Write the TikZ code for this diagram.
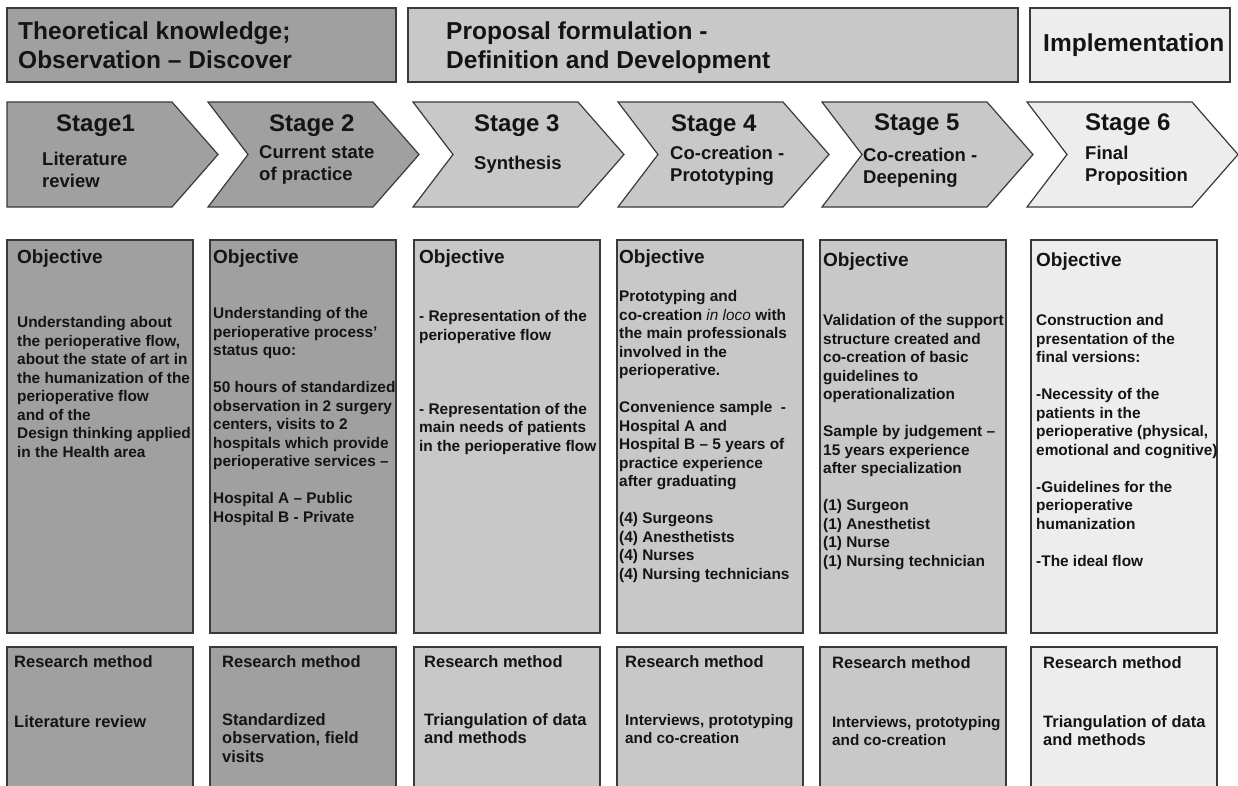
\documentclass[tikz,border=0pt]{standalone}
\usepackage{fontspec}
\setmainfont{Liberation Sans}
\usepackage{xcolor}
\usepackage{tikz}
\usetikzlibrary{calc}

\definecolor{discovergray}{HTML}{A0A0A0}
\definecolor{proposalgray}{HTML}{C8C8C8}
\definecolor{implementgray}{HTML}{EDEDED}
\definecolor{edgegray}{HTML}{3A3A3A}
\definecolor{textgray}{HTML}{141414}

\begin{document}
\begin{tikzpicture}[x=1pt,y=-1pt,
	panel/.style={draw=edgegray,line width=1.2pt},
	% multi-line texts hang from their first baseline
	bannertext/.style={anchor=north west,yshift=17.5pt,inner sep=0pt,align=left,text=textgray,font=\fontsize{24.5}{29}\selectfont\bfseries},
	stagetext/.style={anchor=base west,inner sep=0pt,text=textgray,font=\fontsize{24}{28}\selectfont\bfseries},
	subtext/.style={anchor=north west,yshift=13.3pt,inner sep=0pt,align=left,text=textgray,font=\fontsize{18.5}{22}\selectfont\bfseries},
	headtext/.style={anchor=base west,inner sep=0pt,text=textgray,font=\fontsize{19}{22}\selectfont\bfseries},
	bodytext/.style={anchor=north west,yshift=11pt,inner sep=0pt,align=left,text=textgray,font=\fontsize{15.4}{18.5}\selectfont\bfseries},
	methodtext/.style={anchor=north west,yshift=11.8pt,inner sep=0pt,align=left,text=textgray,font=\fontsize{16.5}{18.4}\selectfont\bfseries},
	narrowmethod/.style={methodtext,yshift=-0.8pt,font=\fontsize{15.3}{18.4}\selectfont\bfseries}]
	\useasboundingbox (0,0) rectangle (1238,785);
	% phase banners on top
	\draw[panel,fill=discovergray] (7,8) rectangle (396,82);% discover
	\draw[panel,fill=proposalgray] (408,8) rectangle (1018,82);% definition and development
	\draw[panel,fill=implementgray] (1030,8) rectangle (1230,82);% implementation
	\node[bannertext] (discover) at (18,39.5) {Theoretical knowledge;\\Observation – Discover};
	\node[bannertext] (proposal) at (446,39.5) {Proposal formulation -\\Definition and Development};
	\node[bannertext] (implement) at (1043,50.8) {Implementation};
	% stage chevrons, the first one has a flat back
	\draw[panel,fill=discovergray] (7,102) -- (172,102) -- (218,154.5) -- (172,207) -- (7,207) -- cycle;
	\foreach \x/\c in {208/discovergray,413/proposalgray,618/proposalgray,822/proposalgray,1027/implementgray}
		\draw[panel,fill=\c] (\x,102) -- ++(165,0) -- ++(46,52.5) -- ++(-46,52.5) -- ++(-165,0) -- ++(40,-52.5) -- cycle;
	\node[stagetext] (stage1) at (56,131.5) {Stage1};
	\node[subtext] (stage1sub) at (42,165.6) {Literature\\review};
	\node[stagetext] (stage2) at (269,131.5) {Stage 2};
	\node[subtext] (stage2sub) at (259,158.6) {Current state\\of practice};
	\node[stagetext] (stage3) at (474,131.5) {Stage 3};
	\node[subtext] (stage3sub) at (474,169.6) {Synthesis};
	\node[stagetext] (stage4) at (671,131.5) {Stage 4};
	\node[subtext] (stage4sub) at (670,159.6) {Co-creation -\\Prototyping};
	\node[stagetext] (stage5) at (874,130.5) {Stage 5};
	\node[subtext] (stage5sub) at (863,161.6) {Co-creation -\\Deepening};
	\node[stagetext] (stage6) at (1085,130.5) {Stage 6};
	\node[subtext] (stage6sub) at (1085,159.6) {Final\\Proposition};
	% objective and research method columns
	\foreach \x/\c in {7/discovergray,210/discovergray,414/proposalgray,617/proposalgray,820/proposalgray,1031/implementgray}{
		\draw[panel,fill=\c] (\x,240) rectangle ++(186,393);% objective
		\draw[panel,fill=\c] (\x,647) rectangle ++(186,160);% research method, runs off the page
	}
	\node[headtext] (obj1) at (17,263) {Objective};
	\node[bodytext] (obj1text) at (17,327.5) {Understanding about\\the perioperative flow,\\about the state of art in\\the humanization of the\\perioperative flow\\and of the\\Design thinking applied\\in the Health area};
	\node[headtext] (obj2) at (213,263) {Objective};
	\node[bodytext] (obj2text) at (213,318.5) {Understanding of the\\perioperative process’\\status quo:\\[18.5pt]50 hours of standardized\\observation in 2 surgery\\centers, visits to 2\\hospitals which provide\\perioperative services –\\[18.5pt]Hospital A – Public\\Hospital B - Private};
	\node[headtext] (obj3) at (419,263) {Objective};
	\node[bodytext] (obj3text) at (419,321.5) {- Representation of the\\perioperative flow\\[55.5pt]- Representation of the\\main needs of patients\\in the perioperative flow};
	\node[headtext] (obj4) at (619,263) {Objective};
	\node[bodytext] (obj4text) at (619,301.5) {Prototyping and\\co-creation {\mdseries\itshape in loco} with\\the main professionals\\involved in the\\perioperative.\\[18.5pt]Convenience sample\ \ -\\Hospital A and\\Hospital B – 5 years of\\practice experience\\after graduating\\[18.5pt](4) Surgeons\\(4) Anesthetists\\(4) Nurses\\(4) Nursing technicians};
	\node[headtext] (obj5) at (823,266) {Objective};
	\node[bodytext] (obj5text) at (823,325.5) {Validation of the support\\structure created and\\co-creation of basic\\guidelines to\\operationalization\\[18.5pt]Sample by judgement –\\15 years experience\\after specialization\\[18.5pt](1) Surgeon\\(1) Anesthetist\\(1) Nurse\\(1) Nursing technician};
	\node[headtext] (obj6) at (1036,266) {Objective};
	\node[bodytext] (obj6text) at (1036,325.5) {Construction and\\presentation of the\\final versions:\\[18.5pt]-Necessity of the\\patients in the\\perioperative (physical,\\emotional and cognitive)\\[18.5pt]-Guidelines for the\\perioperative\\humanization\\[18.5pt]-The ideal flow};
	% research methods
	\node[methodtext] (res1) at (14,667) {Research method};
	\node[methodtext] (res1text) at (14,727) {Literature review};
	\node[methodtext] (res2) at (222,667) {Research method};
	\node[methodtext] (res2text) at (222,725) {Standardized\\observation, field\\visits};
	\node[methodtext] (res3) at (424,667) {Research method};
	\node[methodtext] (res3text) at (424,725) {Triangulation of data\\and methods};
	\node[methodtext] (res4) at (625,667) {Research method};
	\node[narrowmethod] (res4text) at (625,725) {Interviews, prototyping\\and co-creation};
	\node[methodtext] (res5) at (832,668) {Research method};
	\node[narrowmethod] (res5text) at (832,727) {Interviews, prototyping\\and co-creation};
	\node[methodtext] (res6) at (1043,668) {Research method};
	\node[methodtext] (res6text) at (1043,727) {Triangulation of data\\and methods};
\end{tikzpicture}
\end{document}
